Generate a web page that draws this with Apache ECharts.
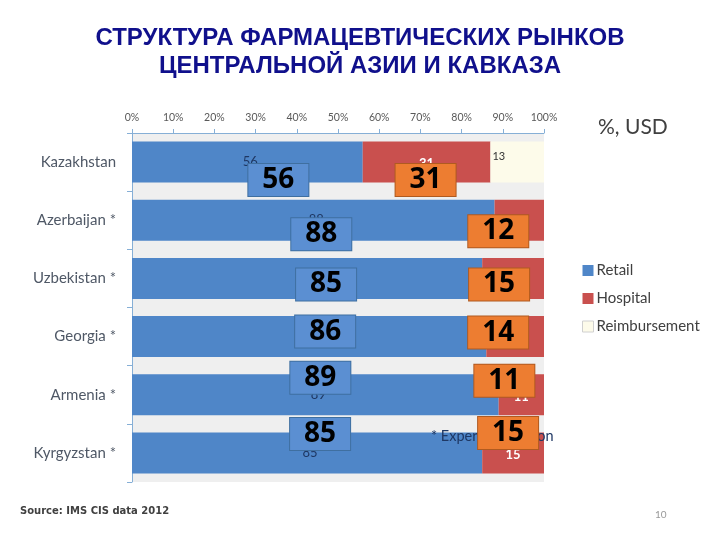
<!DOCTYPE html>
<html><head><meta charset="utf-8">
<script src="https://cdn.jsdelivr.net/npm/echarts@6/dist/echarts.min.js"></script>
<style>html,body{margin:0;padding:0;background:#fff}#c{width:720px;height:540px}</style>
</head><body><div id="c"></div>
<script>
const categories = ['Kazakhstan', 'Azerbaijan *', 'Uzbekistan *', 'Georgia *', 'Armenia *', 'Kyrgyzstan *'];
const retail = [56, 88, 85, 86, 89, 85];
const hospital = [31, 12, 15, 14, 11, 15];
const reimbursement = [13, null, null, null, null, null];
const xTicks = [0, 10, 20, 30, 40, 50, 60, 70, 80, 90, 100];

// callout box offsets (style, relative to each bar's centre)
const retailBoxOffset = [[31, 18], [8, 14], [19, 6], [16, -5], [5, -17], [13, -19]];
const hospitalBoxOffset = [[-1, 18], [-21, 11], [-14, 6], [-17, -4], [-17, -14], [-5, -20]];

const chart = echarts.init(document.getElementById('c'), null, {renderer: 'canvas'});
const boxLabel = (bg, border) => ({
  show: true, position: 'inside', formatter: p => String(p.value),
  backgroundColor: bg, borderColor: border, borderWidth: 1,
  width: 60, height: 32, lineHeight: 34, align: 'center', verticalAlign: 'middle',
  color: '#000', fontSize: 28, fontWeight: 'bold', fontFamily: 'Open Sans'
});
chart.setOption({
  animation: false,
  title: {
    text: 'СТРУКТУРА ФАРМАЦЕВТИЧЕСКИХ РЫНКОВ\nЦЕНТРАЛЬНОЙ АЗИИ И КАВКАЗА',
    left: 'center', top: 19,
    textStyle: {fontFamily: 'Liberation Sans', fontSize: 24, fontWeight: 'bold', color: '#10108c', lineHeight: 28}
  },
  legend: {
    data: ['Retail', 'Hospital', {name: 'Reimbursement', itemStyle: {borderColor: '#d0d0d0', borderWidth: 1}}],
    orient: 'vertical', left: 577, top: 258,
    itemWidth: 11, itemHeight: 11, itemGap: 13, icon: 'rect',
    textStyle: {fontFamily: 'Lato', fontSize: 15, color: '#404040', padding: [0, 0, 0, -2]}
  },
  grid: {left: 132, right: 176, top: 133, bottom: 58, show: true, backgroundColor: '#efefef', borderWidth: 0},
  xAxis: {
    type: 'value', position: 'top', min: xTicks[0], max: xTicks[xTicks.length - 1], interval: 10,
    axisLine: {show: true, lineStyle: {color: '#86afd6'}},
    axisTick: {show: true, inside: false, length: 4, lineStyle: {color: '#86afd6'}},
    splitLine: {show: false},
    axisLabel: {formatter: '{value}%', color: '#595959', fontSize: 10.5, fontFamily: 'Lato', margin: 10}
  },
  yAxis: {
    type: 'category', data: categories, inverse: true,
    axisLine: {show: true, lineStyle: {color: '#86afd6'}},
    axisTick: {show: true, length: 5, lineStyle: {color: '#86afd6'}},
    axisLabel: {color: '#4f5866', fontSize: 15, fontFamily: 'Lato', margin: 16}
  },
  series: [
    {name: 'Retail', type: 'bar', stack: 'total', barWidth: 41, z: 2,
     itemStyle: {color: '#4f86c8'}, data: retail,
     label: {show: true, position: 'inside', color: '#1f3864', fontSize: 13, fontFamily: 'Lato', offset: [3, 0]}},
    {name: 'Hospital', type: 'bar', stack: 'total', barWidth: 41, z: 2,
     itemStyle: {color: '#c9504e'}, data: hospital,
     label: {show: true, position: 'inside', color: '#fff', fontSize: 13, fontWeight: 'bold', fontFamily: 'Lato', offset: [0, 2]}},
    {name: 'Reimbursement', type: 'bar', stack: 'total', barWidth: 41, z: 2,
     itemStyle: {color: '#fdfbea'},
     label: {show: true, position: 'insideLeft', color: '#333', fontSize: 11, fontFamily: 'Lato', distance: 0, offset: [2, -6]},
     data: reimbursement},
    {name: 'retailBox', type: 'bar', stack: 'box', barWidth: 41, barGap: '-100%', z: 10, silent: true,
     itemStyle: {color: 'rgba(0,0,0,0)'},
     data: retail.map((v, i) => ({value: v, label: Object.assign(boxLabel('#5b8fd2', '#3f6fa0'), {offset: retailBoxOffset[i]})}))},
    {name: 'hospitalBox', type: 'bar', stack: 'box', barWidth: 41, z: 10, silent: true,
     itemStyle: {color: 'rgba(0,0,0,0)'},
     data: hospital.map((v, i) => ({value: v, label: Object.assign(boxLabel('#ed7d31', '#b05a20'), {offset: hospitalBoxOffset[i]})}))}
  ],
  graphic: [
    {type: 'text', left: 598, top: 117, style: {text: '%, USD', fill: '#404040', fontSize: 21, fontFamily: 'Lato'}},
    {type: 'text', left: 431, top: 429, z: 5, style: {text: '* Expert estimation', fill: '#1f3864', fontSize: 14.5, fontFamily: 'Lato'}},
    {type: 'text', left: 20, top: 506, style: {text: 'Source: IMS CIS data 2012', fill: '#404040', fontSize: 10, fontWeight: 'bold', fontFamily: 'DejaVu Sans'}},
    {type: 'text', left: 655, top: 510, style: {text: '10', fill: '#999', fontSize: 10, fontFamily: 'Lato'}}
  ]
});
</script></body></html>
